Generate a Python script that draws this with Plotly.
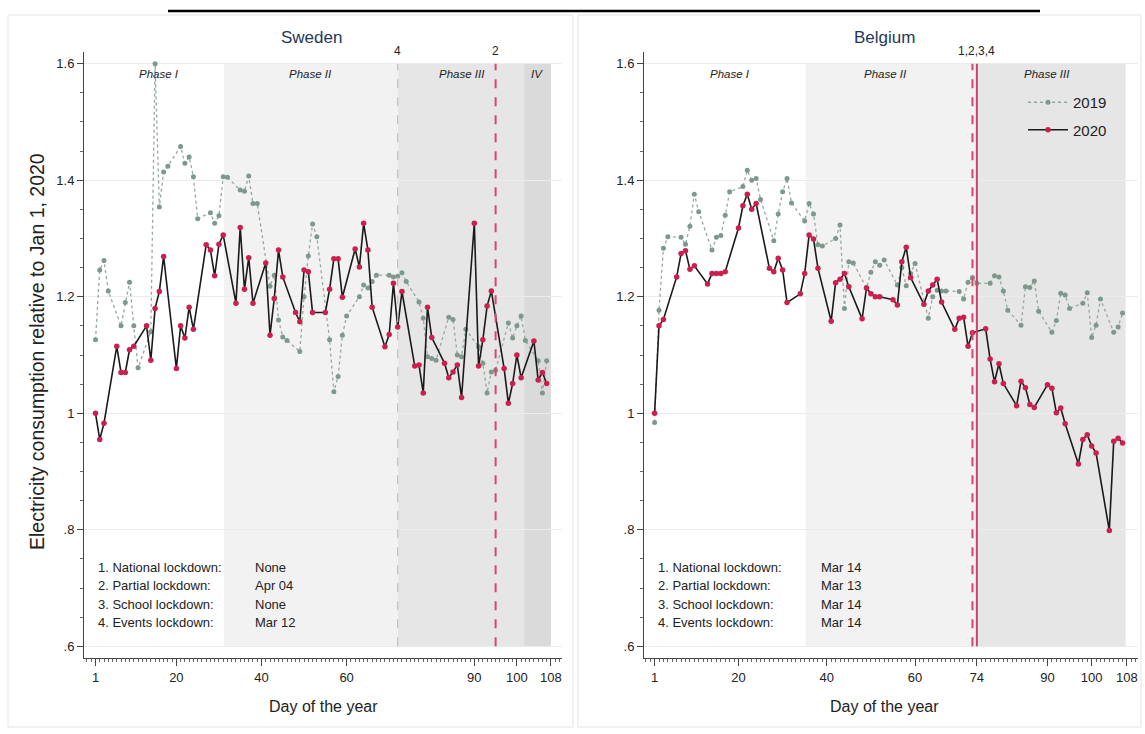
import plotly.graph_objects as go

# ---------------- data ----------------
days_2020 = [1, 2, 3, 6, 7, 8, 9, 10, 13, 14, 15, 16, 17, 20, 21, 22, 23, 24, 27, 28, 29, 30, 31,
             34, 35, 36, 37, 38, 41, 42, 43, 44, 45, 48, 49, 50, 51, 52, 55, 56, 57, 58, 59,
             62, 63, 64, 65, 66, 69, 70, 71, 72, 73, 76, 77, 78, 79, 80, 83, 84, 85, 86, 87,
             90, 91, 92, 93, 94, 97, 98, 99, 100, 101, 104, 105, 106, 107]
days_2019 = [1, 2, 3, 4, 7, 8, 9, 10, 11, 14, 15, 16, 17, 18, 21, 22, 23, 24, 25, 28, 29, 30, 31, 32,
             35, 36, 37, 38, 39, 42, 43, 44, 45, 46, 49, 50, 51, 52, 53, 56, 57, 58, 59, 60,
             63, 64, 65, 66, 67, 70, 71, 72, 73, 74, 77, 78, 79, 80, 81, 84, 85, 86, 87, 88,
             91, 92, 93, 94, 95, 98, 99, 100, 101, 102, 105, 106, 107]

sweden_2020 = [1.000, 0.955, 0.983, 1.115, 1.070, 1.070, 1.109, 1.115, 1.150, 1.091, 1.180, 1.209, 1.269,
               1.077, 1.150, 1.129, 1.182, 1.144, 1.289, 1.280, 1.236, 1.290, 1.306,
               1.189, 1.319, 1.213, 1.267, 1.189, 1.258, 1.134, 1.197, 1.280, 1.234,
               1.173, 1.157, 1.246, 1.243, 1.173, 1.173, 1.213, 1.265, 1.265, 1.199,
               1.282, 1.251, 1.326, 1.280, 1.182, 1.114, 1.135, 1.223, 1.148, 1.209,
               1.081, 1.083, 1.035, 1.182, 1.130, 1.086, 1.061, 1.071, 1.083, 1.027,
               1.326, 1.081, 1.126, 1.184, 1.210, 1.077, 1.017, 1.051, 1.100, 1.061,
               1.124, 1.057, 1.070, 1.051]
sweden_2019 = [1.126, 1.246, 1.262, 1.210, 1.150, 1.190, 1.225, 1.150, 1.078,
               1.140, 1.600, 1.354, 1.414, 1.424, 1.458, 1.429, 1.440, 1.406, 1.334,
               1.344, 1.326, 1.339, 1.406, 1.405, 1.383, 1.381, 1.407, 1.360, 1.360,
               1.218, 1.237, 1.160, 1.131, 1.125, 1.106, 1.200, 1.270, 1.325, 1.303,
               1.126, 1.037, 1.063, 1.134, 1.167, 1.200, 1.220, 1.215, 1.226, 1.237,
               1.237, 1.234, 1.235, 1.241, 1.226, 1.191, 1.163, 1.097, 1.094, 1.091,
               1.165, 1.161, 1.100, 1.097, 1.144, 1.114, 1.086, 1.035, 1.071, 1.074,
               1.155, 1.129, 1.150, 1.167, 1.125, 1.090, 1.035, 1.090]
belgium_2020 = [1.000, 1.150, 1.161, 1.234, 1.274, 1.279, 1.247, 1.253, 1.222, 1.240, 1.240, 1.240, 1.243,
                1.318, 1.356, 1.376, 1.350, 1.360, 1.249, 1.243, 1.266, 1.246, 1.190,
                1.205, 1.240, 1.306, 1.299, 1.249, 1.158, 1.224, 1.230, 1.240, 1.217,
                1.162, 1.215, 1.205, 1.200, 1.200, 1.195, 1.186, 1.260, 1.285, 1.233,
                1.187, 1.210, 1.220, 1.230, 1.191, 1.144, 1.163, 1.165, 1.115, 1.138,
                1.145, 1.093, 1.054, 1.085, 1.051, 1.013, 1.055, 1.044, 1.015, 1.010,
                1.049, 1.043, 1.001, 1.009, 0.982, 0.913, 0.955, 0.963, 0.944, 0.932,
                0.799, 0.952, 0.957, 0.949]
belgium_2019 = [0.984, 1.177, 1.283, 1.303, 1.302, 1.290, 1.321, 1.376, 1.346,
                1.280, 1.302, 1.305, 1.340, 1.380, 1.389, 1.417, 1.400, 1.403, 1.367,
                1.296, 1.342, 1.380, 1.403, 1.361, 1.330, 1.360, 1.342, 1.289, 1.287,
                1.300, 1.323, 1.180, 1.260, 1.258, 1.215, 1.242, 1.260, 1.254, 1.263,
                1.220, 1.250, 1.219, 1.240, 1.257, 1.163, 1.200, 1.211, 1.210, 1.210,
                1.209, 1.196, 1.225, 1.233, 1.223, 1.223, 1.236, 1.234, 1.210, 1.177,
                1.151, 1.217, 1.216, 1.227, 1.175, 1.139, 1.159, 1.206, 1.203, 1.180,
                1.189, 1.207, 1.130, 1.151, 1.196, 1.139, 1.148, 1.172]

sweden_ticks = [1, 20, 40, 60, 90, 100, 108]
belgium_ticks = [1, 20, 40, 60, 74, 90, 100, 108]
y_ticks = [0.6, 0.8, 1.0, 1.2, 1.4, 1.6]
y_ticktext = [".6", ".8", "1", "1.2", "1.4", "1.6"]

sweden_phases = [(31.2, 72, "#f2f2f2"), (72, 101.7, "#e6e6e6"), (101.7, 108, "#dadada")]
sweden_phase_labels = [("Phase I", 16.0), ("Phase II", 51.5), ("Phase III", 87.0), ("IV", 104.8)]
belgium_phases = [(35.2, 74, "#f2f2f2"), (74, 107.7, "#e6e6e6")]
belgium_phase_labels = [("Phase I", 18.0), ("Phase II", 53.3), ("Phase III", 89.8)]

lockdown_rows = ["1. National lockdown:", "2. Partial lockdown:", "3. School lockdown:", "4. Events lockdown:"]
sweden_dates = ["None", "Apr 04", "None", "Mar 12"]
belgium_dates = ["Mar 14", "Mar 13", "Mar 14", "Mar 14"]

# ---------------- geometry ----------------
W, H = 1145, 734
FONT = "Liberation Sans, Arial, sans-serif"
RED = "#cc1f4f"
G19 = "#7d998b"
XR_L = [-1.7, 110.6]
XR_R = [-1.4, 110.5]
YR = [0.580, 1.620]


def px(x):
    return x / W


def py(y):
    return 1 - y / H


fig = go.Figure()

for xa, ya, d19, d20, show in [("x", "y", sweden_2019, sweden_2020, False),
                               ("x2", "y2", belgium_2019, belgium_2020, True)]:
    fig.add_trace(go.Scatter(x=days_2019, y=d19, xaxis=xa, yaxis=ya, mode="lines+markers", name="2019",
                             line=dict(color="#95a89c", width=1.3, dash="dot"),
                             marker=dict(color=G19, size=5), showlegend=show, legendgroup="a"))
    fig.add_trace(go.Scatter(x=days_2020, y=d20, xaxis=xa, yaxis=ya, mode="lines+markers", name="2020",
                             line=dict(color="#1a1a1a", width=1.6),
                             marker=dict(color=RED, size=5.5), showlegend=show, legendgroup="b"))

shapes = []
# panel frames
shapes.append(dict(type="rect", xref="paper", yref="paper", x0=px(8), x1=px(573), y0=py(727), y1=py(15),
                   line=dict(color="#e3e3e3", width=1), fillcolor="rgba(0,0,0,0)", layer="below"))
shapes.append(dict(type="rect", xref="paper", yref="paper", x0=px(578), x1=px(1141), y0=py(727), y1=py(15),
                   line=dict(color="#e3e3e3", width=1), fillcolor="rgba(0,0,0,0)", layer="below"))
# heading underline
shapes.append(dict(type="line", xref="paper", yref="paper", x0=px(168), x1=px(1040), y0=py(11), y1=py(11),
                   line=dict(color="black", width=2.5)))

for (x0, x1, c) in sweden_phases:
    shapes.append(dict(type="rect", xref="x", yref="y", x0=x0, x1=x1, y0=0.6, y1=1.6, fillcolor=c,
                       line=dict(width=0), layer="below"))
for (x0, x1, c) in belgium_phases:
    shapes.append(dict(type="rect", xref="x2", yref="y2", x0=x0, x1=x1, y0=0.6, y1=1.6, fillcolor=c,
                       line=dict(width=0), layer="below"))

# lockdown lines
shapes.append(dict(type="line", xref="x", yref="y", x0=72, x1=72, y0=0.6, y1=1.6,
                   line=dict(color="#cdb9bf", width=1.2, dash="dash")))
shapes.append(dict(type="line", xref="x", yref="y", x0=95, x1=95, y0=0.6, y1=1.6,
                   line=dict(color="#d8456f", width=2, dash="dash")))
shapes.append(dict(type="line", xref="x2", yref="y2", x0=73, x1=73, y0=0.6, y1=1.6,
                   line=dict(color="#d8456f", width=2, dash="dash")))
shapes.append(dict(type="line", xref="x2", yref="y2", x0=74, x1=74, y0=0.6, y1=1.6,
                   line=dict(color="#c9446a", width=2)))

ann = []


def A(**kw):
    kw.setdefault("showarrow", False)
    kw.setdefault("yanchor", "middle")
    kw.setdefault("xanchor", "center")
    ann.append(kw)


# titles
A(text="Sweden", x=px(311), y=py(38), xref="paper", yref="paper",
  font=dict(size=17, color="#23395b", family=FONT))
A(text="Belgium", x=px(884), y=py(38), xref="paper", yref="paper",
  font=dict(size=17, color="#23395b", family=FONT))
# lockdown number labels
for txt, xv, xr in [("4", 72, "x"), ("2", 95, "x"), ("1,2,3,4", 74, "x2")]:
    A(text=txt, x=xv, y=py(51), xref=xr, yref="paper", font=dict(size=12, color="#222", family=FONT))
# phase labels
for txt, xv in sweden_phase_labels:
    A(text="<i>" + txt + "</i>", x=xv, y=py(74), xref="x", yref="paper",
      font=dict(size=11.5, color="#222", family=FONT))
for txt, xv in belgium_phase_labels:
    A(text="<i>" + txt + "</i>", x=xv, y=py(74), xref="x2", yref="paper",
      font=dict(size=11.5, color="#222", family=FONT))
# lockdown text box
row_y = [567, 585.5, 604, 622.5]
for i in range(4):
    for xr, xl, xv, dates in [("x", 1.2, 38.0, sweden_dates), ("x2", 1.3, 38.3, belgium_dates)]:
        A(text=lockdown_rows[i], x=xl, y=py(row_y[i]), xref=xr, yref="paper", xanchor="left",
          font=dict(size=13, color="#222", family=FONT))
        A(text=dates[i], x=xv, y=py(row_y[i]), xref=xr, yref="paper", xanchor="left",
          font=dict(size=13, color="#222", family=FONT))
# axis titles
A(text="Electricity consumption relative to Jan 1, 2020", x=px(37), y=py(352), xref="paper",
  yref="paper", textangle=-90, font=dict(size=19.5, color="#222", family=FONT))
A(text="Day of the year", x=px(323), y=py(706), xref="paper", yref="paper",
  font=dict(size=16, color="#222", family=FONT))
A(text="Day of the year", x=px(884), y=py(706), xref="paper", yref="paper",
  font=dict(size=16, color="#222", family=FONT))


def xaxis(dom, rng, ticks, anchor):
    return dict(domain=dom, range=rng, anchor=anchor, tickmode="array", tickvals=ticks,
                ticktext=[str(t) for t in ticks], ticks="outside", ticklen=7, tickwidth=1,
                tickcolor="#444", showline=True, linecolor="#444", linewidth=1, showgrid=False,
                zeroline=False, tickfont=dict(size=13, color="#222", family=FONT),
                minor=dict(ticks="outside", ticklen=3, tick0=0, dtick=1, tickcolor="#666", showgrid=False),
                automargin=False)


def yaxis(anchor):
    return dict(domain=[py(658), py(52)], range=YR, anchor=anchor, tickmode="array", tickvals=y_ticks,
                ticktext=y_ticktext, ticks="outside", ticklen=6, tickwidth=1, tickcolor="#444",
                showline=True, linecolor="#444", linewidth=1, showgrid=True, gridcolor="#ececec",
                gridwidth=1, zeroline=False, tickfont=dict(size=13, color="#222", family=FONT),
                minor=dict(ticks="outside", ticklen=3, tick0=0, dtick=0.05, tickcolor="#666", showgrid=False),
                automargin=False)


fig.update_layout(
    width=W, height=H, margin=dict(l=0, r=0, t=0, b=0),
    paper_bgcolor="white", plot_bgcolor="white",
    xaxis=xaxis([px(84), px(562)], XR_L, sweden_ticks, "y"),
    yaxis=yaxis("x"),
    xaxis2=xaxis([px(644), px(1138)], XR_R, belgium_ticks, "y2"),
    yaxis2=yaxis("x2"),
    shapes=shapes, annotations=ann,
    legend=dict(x=px(1023), y=py(86), xanchor="left", yanchor="top", bgcolor="rgba(0,0,0,0)",
                font=dict(size=15, color="#222", family=FONT), itemwidth=40, tracegroupgap=5),
    font=dict(family=FONT),
)

fig.write_html("out.html", config={"displayModeBar": False},
               post_script="document.body.style.margin='0px';document.body.style.overflow='hidden';")
